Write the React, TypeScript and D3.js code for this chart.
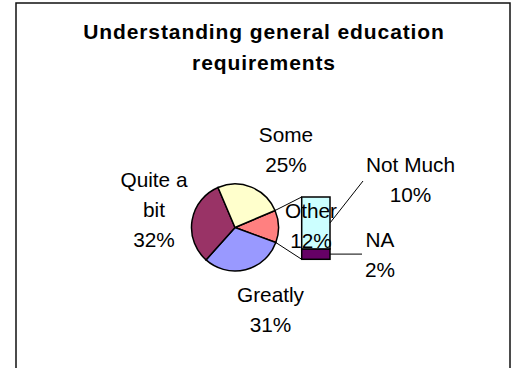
import React from "react";
import * as d3 from "d3";

// ---- data ----
const title = ["Understanding general education", "requirements"];
const pieCategories = ["Other", "Greatly", "Quite a bit", "Some"];
const pieValues = [12, 31, 32, 25];
const pieLabelLines = [["Other", "12%"], ["Greatly", "31%"], ["Quite a", "bit", "32%"], ["Some", "25%"]];
const barCategories = ["NA", "Not Much"];
const barValues = [2, 10];
const barLabelLines = [["NA", "2%"], ["Not Much", "10%"]];

// ---- styles / layout ----
const W = 517, H = 368;
const pieColors: Record<string, string> = {
  "Other": "#FF8080",
  "Greatly": "#9999FF",
  "Quite a bit": "#993366",
  "Some": "#FFFFCC",
};
const barColors: Record<string, string> = { "NA": "#660066", "Not Much": "#CCFFFF" };
const FONT = "'Liberation Sans', Arial, sans-serif";
const cx = 235, cy = 227.5, R = 43.5;
const startDeg = 67;
const bar = { x: 301.7, w: 28.3, top: 197, bottom: 259.3 };
// label anchors (center x, first baseline) relative to pie center
const pieLabelPos: Record<string, [number, number]> = {
  "Other": [76, -9.5],
  "Greatly": [35.5, 74.5],
  "Quite a bit": [-81, -40.5],
  "Some": [51, -85.5],
};
const barLabelPos: Record<string, [number, number]> = {
  "NA": [380, 247],
  "Not Much": [410.5, 172],
};
const LINE = 30;

export default function App() {
  const total = d3.sum(pieValues);
  const a0 = (startDeg * Math.PI) / 180;
  const pie = d3
    .pie<number>()
    .sort(null)
    .value((d) => d)
    .startAngle(a0)
    .endAngle(a0 + 2 * Math.PI);
  const arcs = pie(pieValues);
  const arc = d3.arc<d3.PieArcDatum<number>>().innerRadius(0).outerRadius(R);

  const barTotal = d3.sum(barValues);
  const y = d3.scaleLinear().domain([0, barTotal]).range([bar.bottom, bar.top]);
  const stacked: { cat: string; y0: number; y1: number; lines: string[] }[] = [];
  let acc = 0;
  barValues.forEach((v, i) => {
    stacked.push({ cat: barCategories[i], y0: acc, y1: acc + v, lines: barLabelLines[i] });
    acc += v;
  });

  const otherArc = arcs[0];
  const pt = (a: number) => [cx + R * Math.sin(a), cy - R * Math.cos(a)];
  const [sx, sy] = pt(otherArc.startAngle);
  const [ex, ey] = pt(otherArc.endAngle);

  return (
    <svg
      width={W}
      height={H}
      style={{ position: "absolute", left: 0, top: 0, background: "#fff" }}
      fontFamily={FONT}
    >
      <rect x={16} y={3} width={494} height={400} fill="#fff" stroke="#111" strokeWidth={1.5} />
      {title.map((t, i) => (
        <text
          key={i}
          x={264}
          y={39 + i * 30.5}
          textAnchor="middle"
          fontWeight="bold"
          fontSize={21}
          letterSpacing={0.9}
          fill="#000"
        >
          {t}
        </text>
      ))}

      {/* pie */}
      <g transform={`translate(${cx},${cy})`}>
        {arcs.map((a, i) => (
          <path
            key={i}
            d={arc(a) || ""}
            fill={pieColors[pieCategories[i]]}
            stroke="#000"
            strokeWidth={1.5}
          />
        ))}
      </g>

      {/* connector lines */}
      <line x1={sx} y1={sy} x2={bar.x} y2={y(barTotal)} stroke="#000" strokeWidth={1} />
      <line x1={ex} y1={ey} x2={bar.x} y2={y(0)} stroke="#000" strokeWidth={1} />

      {/* bar */}
      {stacked.map((s) => (
        <rect
          key={s.cat}
          x={bar.x}
          y={y(s.y1)}
          width={bar.w}
          height={y(s.y0) - y(s.y1)}
          fill={barColors[s.cat]}
          stroke="#000"
          strokeWidth={1.5}
        />
      ))}

      {/* bar leader lines */}
      {stacked.map((s) => {
        const my = (y(s.y0) + y(s.y1)) / 2;
        const [lx, ly] = barLabelPos[s.cat];
        const tx = lx - 18;
        const ty = s.cat === "NA" ? my : ly + 9;
        return (
          <line
            key={"l" + s.cat}
            x1={bar.x + bar.w}
            y1={my}
            x2={s.cat === "NA" ? 362 : 363}
            y2={s.cat === "NA" ? my : ty}
            stroke="#000"
            strokeWidth={1}
            data-tx={tx}
          />
        );
      })}

      {/* pie labels */}
      {pieCategories.map((c, i) => {
        const [dx, dy] = pieLabelPos[c];
        return pieLabelLines[i].map((t, j) => (
          <text
            key={c + j}
            x={cx + dx}
            y={cy + dy + j * LINE}
            textAnchor="middle"
            fontSize={20.8}
            fill="#000"
          >
            {t}
          </text>
        ));
      })}

      {/* bar labels */}
      {stacked.map((s) => {
        const [lx, ly] = barLabelPos[s.cat];
        return s.lines.map((t, j) => (
          <text key={s.cat + j} x={lx} y={ly + j * LINE} textAnchor="middle" fontSize={20.8} fill="#000">
            {t}
          </text>
        ));
      })}
    </svg>
  );
}
